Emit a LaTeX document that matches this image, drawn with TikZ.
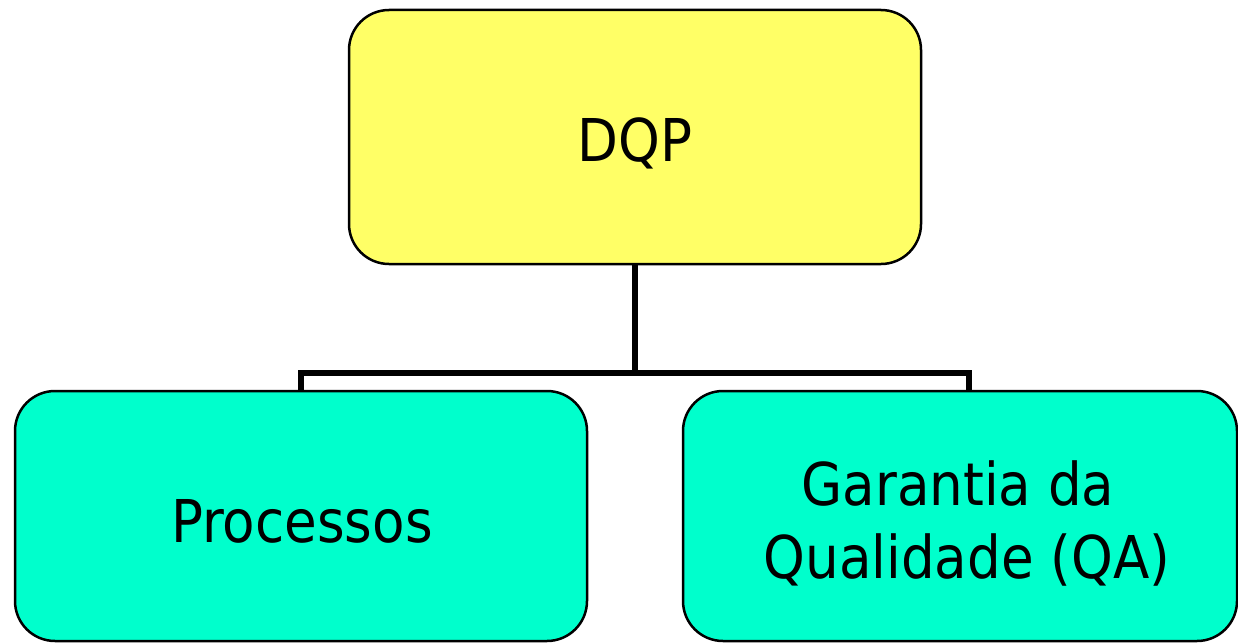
\documentclass[tikz,border=0pt]{standalone}
\usepackage{fontspec}
\setmainfont{DejaVu Sans Condensed}
\definecolor{boxyellow}{HTML}{FFFF66}
\definecolor{boxteal}{HTML}{00FFCC}
\begin{document}
\begin{tikzpicture}[x=1pt,y=-1pt,
  orgbox/.style={draw=black,line width=2.5pt,rounded corners=40pt,inner sep=0pt},
  boxtext/.style={anchor=base,inner sep=0pt,font=\fontsize{59}{70}\selectfont},
  link/.style={draw=black,line width=6pt}]
\useasboundingbox (0,0) rectangle (1238,642);
\fill[white] (0,0) rectangle (1238,642);
\node[orgbox,fill=boxyellow,minimum width=572pt,minimum height=254pt] (dqp) at (635,137) {};
\node[orgbox,fill=boxteal,minimum width=572pt,minimum height=250pt] (proc) at (301,516) {};
\node[orgbox,fill=boxteal,minimum width=554pt,minimum height=250pt] (qa) at (960,516) {};
\node[boxtext] (dqptext) at (635,161) {DQP};
\node[boxtext] (proctext) at (302,542) {Processos};
\node[boxtext] (qatext1) at (958,505) {Garantia da};
\node[boxtext] (qatext2) at (967,578) {Qualidade (QA)};
\coordinate (mid) at (635,373);
\coordinate (procdrop) at (301,391);
\coordinate (qadrop) at (969,391);
\draw[link] (dqp.south) -- (mid);
\draw[link] (procdrop) |- (mid) -| (qadrop);
\end{tikzpicture}
\end{document}
